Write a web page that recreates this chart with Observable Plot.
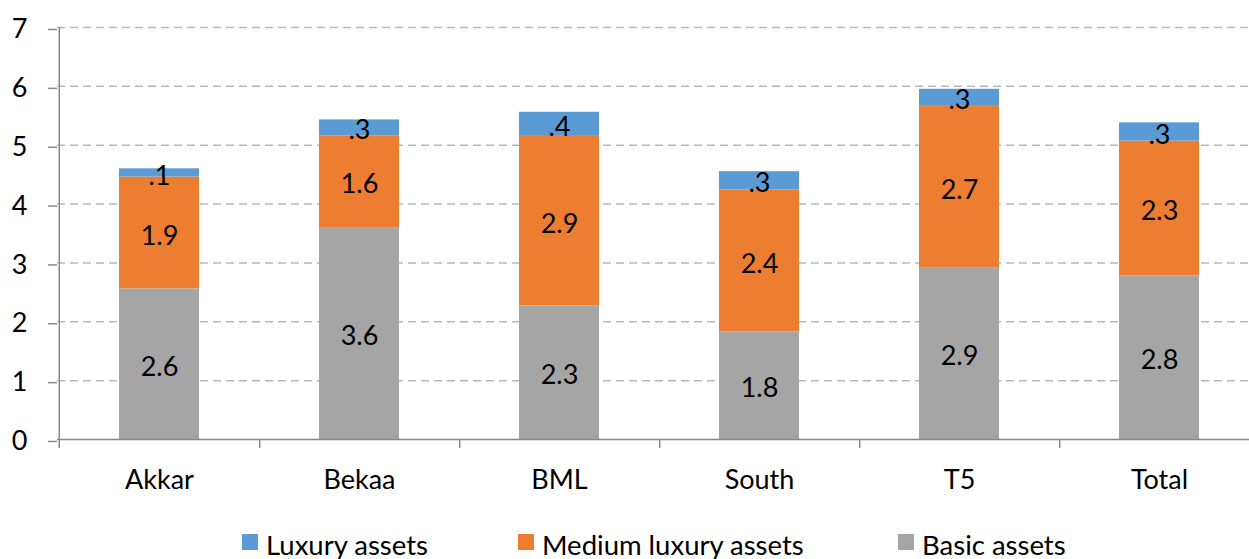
<!DOCTYPE html>
<html>
<head>
<meta charset="utf-8">
<script src="https://cdn.jsdelivr.net/npm/d3@7"></script>
<script src="https://cdn.jsdelivr.net/npm/@observablehq/plot@0.6"></script>
<style>
  html, body { margin: 0; padding: 0; background: #fff; }
  body { font-family: Lato, "Liberation Sans", sans-serif; }
  #wrap { width: 1249px; height: 559px; overflow: hidden; position: relative; }
  #legend { position: relative; width: 1249px; height: 39px; }
  .sw { position: absolute; top: 14px; width: 16px; height: 16px; }
  .lt { position: absolute; top: 11px; font-size: 27.5px; line-height: 27px; color: #000; white-space: nowrap; }
</style>
</head>
<body>
<div id="wrap"><div id="chart"></div><div id="legend"></div></div>
<script>
const categories = ["Akkar", "Bekaa", "BML", "South", "T5", "Total"];
const seriesNames = ["Basic assets", "Medium luxury assets", "Luxury assets"];
const basicAssets = [2.56, 3.60, 2.27, 1.83, 2.92, 2.78];
const mediumLuxuryAssets = [1.90, 1.56, 2.88, 2.41, 2.74, 2.29];
const luxuryAssets = [0.14, 0.27, 0.41, 0.31, 0.29, 0.31];
const seriesColors = ["#A5A5A5", "#ED7D31", "#5B9BD5"];
const yTicks = [0, 1, 2, 3, 4, 5, 6, 7];
const legendOrder = ["Luxury assets", "Medium luxury assets", "Basic assets"];

const seriesValues = [basicAssets, mediumLuxuryAssets, luxuryAssets];
const data = [];
categories.forEach((c, i) => {
  seriesNames.forEach((s, j) => data.push({category: c, series: s, value: seriesValues[j][i]}));
});

const fmt = v => d3.format(".1f")(v).replace(/^0\./, ".");

const W = 1249, H = 520;
const xRange = [57, 1260];
const step = (xRange[1] - xRange[0]) / categories.length;
const FS = 27;

const chart = Plot.plot({
  width: W,
  height: H,
  marginTop: 27,
  marginBottom: 81,
  marginLeft: 57,
  marginRight: 0,
  style: {fontFamily: "Lato, 'Liberation Sans', sans-serif", fontSize: FS + "px", color: "#000", background: "#fff", overflow: "hidden"},
  x: {domain: categories, range: xRange, paddingInner: 0.6, paddingOuter: 0.3, axis: null},
  y: {domain: [0, 7], axis: null},
  color: {domain: seriesNames, range: seriesColors},
  marks: [
    Plot.ruleY(yTicks.filter(d => d > 0), {y: d => d, stroke: "#b8b8b8", strokeWidth: 1.5, strokeDasharray: "8,5"}),
    Plot.barY(data, Plot.stackY({x: "category", y: "value", fill: "series", order: null})),
    Plot.text(data, Plot.stackY({x: "category", y: "value", z: "series", order: null, text: d => fmt(d.value), fontSize: FS, fill: "#000", dy: 3})),
    Plot.ruleY([0], {stroke: "#898989", strokeWidth: 1.5}),
    Plot.ruleX([categories[0]], {x: d => d, y1: 7, y2: 0, dx: -step / 2, insetBottom: -9, stroke: "#898989", strokeWidth: 1.5}),
    Plot.ruleX(categories, {x: d => d, y1: 0, y2: 0, dx: step / 2, insetBottom: -9, stroke: "#898989", strokeWidth: 1.5}),
    Plot.axisY(yTicks, {tickSize: 9, tickPadding: 21, tickFormat: d => String(d), stroke: "#898989", strokeWidth: 1.5, fontSize: FS, fill: "#000", dy: 2, label: null}),
    Plot.axisX(categories, {tickSize: 0, tickPadding: 30, fontSize: FS, fill: "#000", label: null})
  ]
});
document.getElementById("chart").appendChild(chart);

const legend = document.getElementById("legend");
const legendX = {"Luxury assets": 242, "Medium luxury assets": 518, "Basic assets": 898};
legendOrder.forEach(name => {
  const sw = document.createElement("div");
  sw.className = "sw";
  sw.style.left = legendX[name] + "px";
  sw.style.background = seriesColors[seriesNames.indexOf(name)];
  legend.appendChild(sw);
  const t = document.createElement("div");
  t.className = "lt";
  t.style.left = (legendX[name] + 24) + "px";
  t.textContent = name;
  legend.appendChild(t);
});
</script>
</body>
</html>
